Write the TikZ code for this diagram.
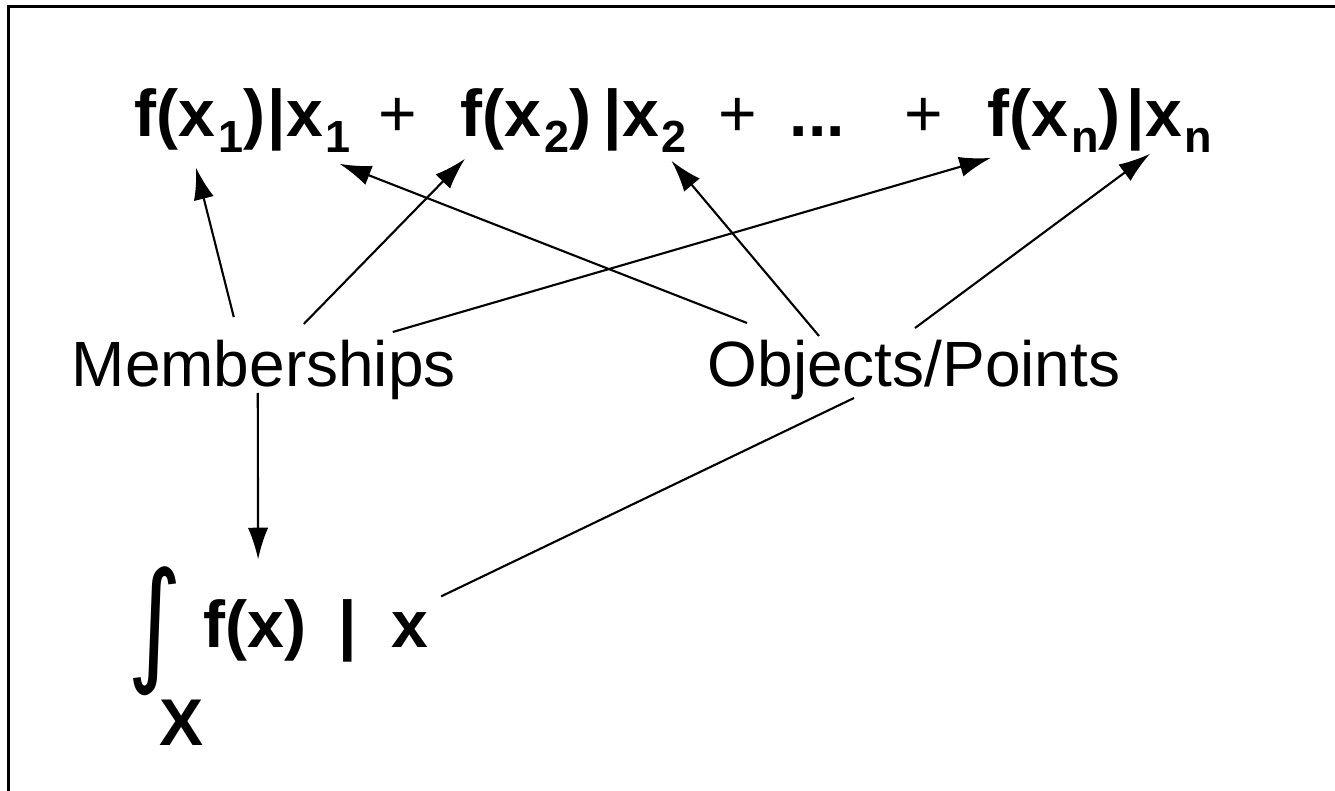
\documentclass[tikz,border=0pt]{standalone}
\usepackage{fontspec}
\setmainfont{Liberation Sans}
\newfontfamily\symfont{DejaVu Sans}
\usepackage{graphicx}
\usetikzlibrary{arrows.meta, positioning, calc}

% lowered, smaller index
\newcommand{\lowsub}[1]{\kern0.8pt\raisebox{-4.3pt}{\fontsize{12.8}{14}\selectfont #1}}

\begin{document}
\begin{tikzpicture}[x=0.01cm, y=-0.01cm,
  form/.style={font=\fontsize{18.8}{22}\selectfont\bfseries, inner sep=0pt},
  plus/.style={font=\fontsize{18.8}{22}\selectfont, inner sep=0pt},
  lbl/.style={font=\fontsize{18.2}{22}\selectfont, inner sep=0pt},
  arr/.style={-{Latex[length=9pt,width=5.8pt]}, line width=0.6pt},
  link/.style={line width=0.6pt}]
  \useasboundingbox (0,0) rectangle (1335,791);
  % frame, cut at right and bottom
  \draw[line width=0.6pt] (8.5,791) -- (8.5,6.5) -- (1335,6.5);

  % discrete sum
  \node[form, anchor=base west] (fx1) at (134,137) {f(x\lowsub{1})};
  \node[form, anchor=base west] (bx1) at (267,137) {|x\lowsub{1}};
  \node[plus, anchor=base] (p1) at (398,137) {+};
  \node[form, anchor=base west] (fx2) at (460,137) {f(x\lowsub{2})};
  \node[form, anchor=base west] (bx2) at (603,137) {|x\lowsub{2}};
  \node[plus, anchor=base] (p2) at (738,137) {+};
  \node[form, anchor=base west] (dots) at (789,137) {...};
  \node[plus, anchor=base] (p3) at (924,137) {+};
  \node[form, anchor=base west] (fxn) at (987,137) {f(x\lowsub{n})};
  \node[form, anchor=base west] (bxn) at (1126,137) {|x\lowsub{n}};

  % the two labels
  \node[lbl, anchor=base west] (mem) at (71,387) {Memberships};
  \node[lbl, anchor=base west] (obj) at (707,387) {Objects/Points};

  % continuous case
  \node[anchor=north west, inner sep=0pt] (intsign) at (127,566)
    {\resizebox*{0.55cm}{1.29cm}{\symfont ∫}};
  \node[form, anchor=base west] (dom) at (159,746) {X};
  \node[form, anchor=base west] (fint) at (203,648) {f(x)};
  \node[form, anchor=base] (bar) at (348,648) {|};
  \node[form, anchor=base west] (xint) at (391,648) {x};

  % memberships
  \draw[arr] ($(mem.base)+(-30,-70)$) -- ($(fx1.south)+(-4,15)$);
  \draw[arr] ($(mem.base)+(40,-63)$) -- ($(fx2.south west)+(5,6)$);
  \draw[arr] ($(mem.base)+(129,-55)$) -- ($(fxn.south west)+(4,5)$);
  \draw[arr] ($(mem.base)+(-6,6)$) -- ($(fint.north)+(3,-40)$);
  % objects / points
  \draw[arr] ($(obj.base)+(-167,-64)$) -- ($(bx1.south east)+(-12,11)$);
  \draw[arr] ($(obj.base)+(-95,-51)$) -- ($(bx2.south east)+(-16,8)$);
  \draw[arr] ($(obj.base)+(1,-59)$) -- ($(bxn.south west)+(24,1)$);
  \draw[link] ($(obj.base)+(-60,11)$) -- ($(xint.north east)+(12,-16)$);
\end{tikzpicture}
\end{document}
